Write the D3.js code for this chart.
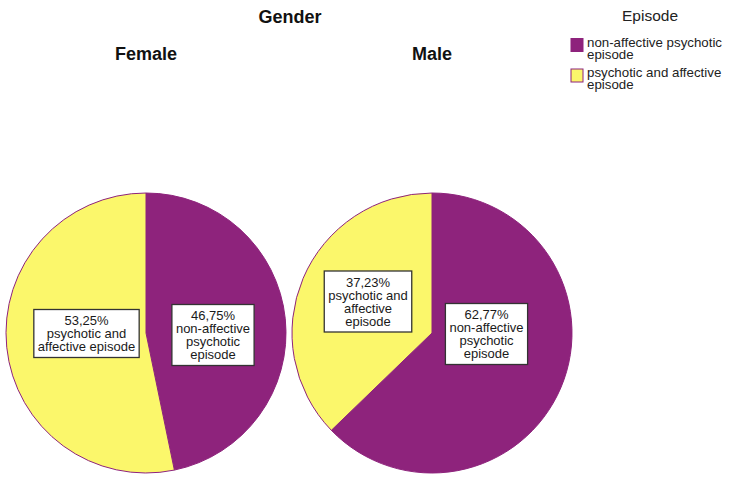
<!DOCTYPE html>
<html><head><meta charset="utf-8">
<script src="https://cdn.jsdelivr.net/npm/d3@7"></script>
<style>body{margin:0;background:#fff}svg{display:block}text{font-family:Arial,"Liberation Sans",sans-serif}</style>
</head><body>
<script>
const panels = ["Female", "Male"];
const categories = ["non-affective psychotic episode", "psychotic and affective episode"];
const femaleValues = [46.75, 53.25];
const maleValues = [62.77, 37.23];
const femaleLabelLines = [["46,75%", "non-affective", "psychotic", "episode"], ["53,25%", "psychotic and", "affective episode"]];
const maleLabelLines = [["62,77%", "non-affective", "psychotic", "episode"], ["37,23%", "psychotic and", "affective", "episode"]];
const legendLines = [["non-affective psychotic", "episode"], ["psychotic and affective", "episode"]];
const colors = ["#8e237c", "#fbf76b"];

const W = 732, H = 481;
const svg = d3.select("body").append("svg").attr("width", W).attr("height", H);

svg.append("text").attr("x", 290).attr("y", 23).attr("text-anchor", "middle")
  .attr("font-size", 18).attr("font-weight", "bold").attr("fill", "#111").text("Gender");

const R = 140;
const centers = [[146, 333], [432, 333]];
// label box centre offsets (layout only)
const labelOffsets = [[[67, 2], [-59.5, 0.5]], [[54.5, 1], [-64, -31.5]]];
const valuesList = [femaleValues, maleValues];
const linesList = [femaleLabelLines, maleLabelLines];

const pie = d3.pie().sort(null).value(d => d).startAngle(0).endAngle(2 * Math.PI);
const arc = d3.arc().innerRadius(0).outerRadius(R);

panels.forEach((p, i) => {
  const [cx, cy] = centers[i];
  svg.append("text").attr("x", cx).attr("y", 60).attr("text-anchor", "middle")
    .attr("font-size", 18).attr("font-weight", "bold").attr("fill", "#111").text(p);
  const g = svg.append("g").attr("transform", `translate(${cx},${cy})`);
  const arcs = pie(valuesList[i]);
  g.selectAll("path").data(arcs).join("path")
    .attr("d", arc).attr("fill", (d, j) => colors[j])
    .attr("stroke", colors[0]).attr("stroke-width", 1);
  arcs.forEach((d, j) => {
    const lines = linesList[i][j];
    const lh = 13, fs = 13;
    const [ox, oy] = labelOffsets[i][j];
    const lg = g.append("g").attr("transform", `translate(${ox},${oy})`);
    const t = lg.append("text").attr("text-anchor", "middle").attr("font-size", fs).attr("fill", "#1a1a1a");
    lines.forEach((l, k) => {
      t.append("tspan").attr("x", 0).attr("y", (k - (lines.length - 1) / 2) * lh + 4.5).text(l);
    });
    const bb = t.node().getBBox();
    const bw = bb.width + 8, bh = lines.length * lh + 9;
    lg.insert("rect", "text").attr("x", -bw / 2).attr("y", -bh / 2)
      .attr("width", bw).attr("height", bh)
      .attr("fill", "#fff").attr("stroke", "#333").attr("stroke-width", 1.3);
  });
});

// legend
svg.append("text").attr("x", 650).attr("y", 21).attr("text-anchor", "middle")
  .attr("font-size", 15.5).attr("fill", "#222").text("Episode");
categories.forEach((c, j) => {
  const y0 = 38.5 + j * 30.5;
  svg.append("rect").attr("x", 571).attr("y", y0).attr("width", 12).attr("height", 13)
    .attr("fill", colors[j]).attr("stroke", colors[0]).attr("stroke-width", 1);
  const t = svg.append("text").attr("font-size", 13.3).attr("fill", "#222");
  legendLines[j].forEach((l, k) => {
    t.append("tspan").attr("x", 587).attr("y", y0 + 8 + k * 12).text(l);
  });
});
</script>
</body></html>
